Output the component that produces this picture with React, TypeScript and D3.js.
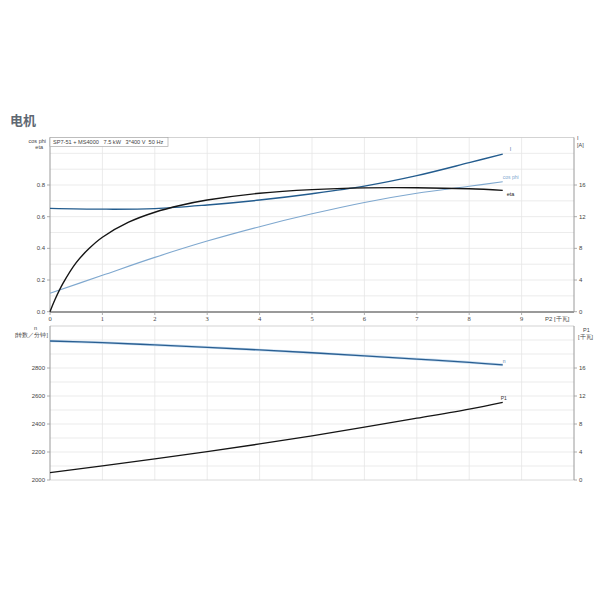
import React from "react";
import * as d3 from "d3";

const etaP2 = [0, 0.1, 0.25, 0.5, 0.75, 1, 1.5, 2, 2.5, 3, 4, 5, 6, 7, 8, 8.64];
const etaValues = [0, 0.08, 0.18, 0.31, 0.4, 0.47, 0.565, 0.628, 0.672, 0.705, 0.748, 0.771, 0.782, 0.783, 0.776, 0.766];

const p2 = [0, 1, 2, 3, 4, 5, 6, 7, 8, 8.64];
const cosPhiValues = [0.116, 0.23, 0.343, 0.446, 0.537, 0.618, 0.69, 0.748, 0.792, 0.821];
const currentValues = [13.05, 12.95, 13.02, 13.48, 14.1, 14.9, 15.86, 17.18, 18.82, 19.9];
const speedValues = [2993, 2981, 2965, 2948, 2929, 2909, 2887, 2864, 2840, 2822];
const p1Values = [1.05, 2.02, 3.02, 4.06, 5.15, 6.3, 7.54, 8.83, 10.14, 11.1];

const xTicks = [0, 1, 2, 3, 4, 5, 6, 7, 8, 9];
const effTicks = [0, 0.2, 0.4, 0.6, 0.8];
const currentTicks = [0, 4, 8, 12, 16];
const speedTicks = [2000, 2200, 2400, 2600, 2800];
const p1Ticks = [0, 4, 8, 12, 16];

const title = "电机";
const infoText = "SP7-51 + MS4000   7.5 kW   3*400 V  50 Hz";

const L = 50;
const R = 574;
const SANS = "'Liberation Sans', Arial, sans-serif";
const SERIF = "'Liberation Serif', 'Times New Roman', serif";
const GRID = "#e6e6e6";
const AXIS = "#9a9a9a";
const TXT = "#444";

export default function App() {
  const x = d3.scaleLinear().domain([0, 10]).range([L, R]);
  const yTop = d3.scaleLinear().domain([0, 1.1]).range([311.7, 137.5]);
  const yI = d3.scaleLinear().domain([0, 22]).range([311.7, 137.5]);
  const yN = d3.scaleLinear().domain([2000, 3100]).range([480, 326]);
  const yP = d3.scaleLinear().domain([0, 22]).range([480, 326]);

  const mk = (xs: number[], ys: number[], ysc: d3.ScaleLinear<number, number>) =>
    d3
      .line<number>()
      .x((_, i) => x(xs[i]))
      .y((d) => ysc(d))
      .curve(d3.curveCatmullRom.alpha(0.5))(ys) || "";

  const topGrid = d3.range(1, 11).map((i) => i / 10);
  const botGrid = d3.range(2100, 3001, 100);
  const vGrid = d3.range(1, 10);

  const lastI = p2.length - 1;

  return (
    <svg width={600} height={600} style={{ position: "absolute", left: 0, top: 0, background: "#fff" }}>
      <text x={10} y={125} fontFamily="'Noto Sans CJK SC', sans-serif" fontSize={13} fontWeight="bold" fill="#5f6873">
        {title}
      </text>

      {/* ---------- top chart ---------- */}
      {topGrid.map((v) => (
        <line key={"tg" + v} x1={L} x2={R} y1={yTop(v)} y2={yTop(v)} stroke={GRID} strokeWidth={0.8} />
      ))}
      {vGrid.map((v) => (
        <line key={"tv" + v} x1={x(v)} x2={x(v)} y1={137.5} y2={311.7} stroke={GRID} strokeWidth={0.8} />
      ))}
      <line x1={L} x2={R} y1={137.5} y2={137.5} stroke="#c8c8c8" strokeWidth={0.8} />
      <line x1={L} x2={L} y1={137.5} y2={312} stroke={AXIS} strokeWidth={1} />
      <line x1={R} x2={R} y1={137.5} y2={312} stroke={AXIS} strokeWidth={1} />
      <line x1={L} x2={R} y1={312} y2={312} stroke={AXIS} strokeWidth={2} />

      <rect x={L} y={137.5} width={118} height={9} fill="#fff" stroke="#aaa" strokeWidth={0.7} />
      <text x={L + 3} y={144.3} fontFamily={SANS} fontSize={5.6} fill={TXT} style={{ whiteSpace: "pre" }}>
        {infoText}
      </text>

      {effTicks.map((v) => (
        <g key={"et" + v}>
          <line x1={L - 3} x2={L} y1={yTop(v)} y2={yTop(v)} stroke={AXIS} strokeWidth={0.8} />
          <text x={L - 5} y={yTop(v) + 2} textAnchor="end" fontFamily={SANS} fontSize={6} fill={TXT}>
            {v.toFixed(1)}
          </text>
        </g>
      ))}
      <text x={46} y={143} textAnchor="end" fontFamily={SANS} fontSize={5.5} fill={TXT}>cos phi</text>
      <text x={43} y={149} textAnchor="end" fontFamily={SANS} fontSize={5.5} fill={TXT}>eta</text>

      {currentTicks.map((v) => (
        <g key={"it" + v}>
          <line x1={R} x2={R + 3} y1={yI(v)} y2={yI(v)} stroke={AXIS} strokeWidth={0.8} />
          <text x={R + 5} y={yI(v) + 2} fontFamily={SANS} fontSize={6} fill={TXT}>
            {v}
          </text>
        </g>
      ))}
      <text x={577} y={140} fontFamily={SANS} fontSize={5.5} fill={TXT}>I</text>
      <text x={577} y={147} fontFamily={SANS} fontSize={5.5} fill={TXT}>[A]</text>

      {xTicks.map((v) => (
        <g key={"xt" + v}>
          <line x1={x(v)} x2={x(v)} y1={312} y2={315} stroke={AXIS} strokeWidth={0.8} />
          <text x={x(v)} y={320.5} textAnchor="middle" fontFamily={SERIF} fontSize={6.5} fill={TXT}>
            {v}
          </text>
        </g>
      ))}
      <text x={545} y={320.5} fontFamily={SANS} fontSize={6} fill={TXT}>P2 [千瓦]</text>

      <path d={mk(p2, cosPhiValues, yTop)} fill="none" stroke="#7fa8cf" strokeWidth={1.1} />
      <path d={mk(p2, currentValues, yI)} fill="none" stroke="#235c8e" strokeWidth={1.4} />
      <path d={mk(etaP2, etaValues, yTop)} fill="none" stroke="#151515" strokeWidth={1.4} />

      <text x={x(p2[lastI]) + 7} y={yI(currentValues[lastI]) - 3} fontFamily={SANS} fontSize={5.5} fill="#5a86b0">I</text>
      <text x={x(p2[lastI])} y={yTop(cosPhiValues[lastI]) - 2.5} fontFamily={SANS} fontSize={5} fill="#7fa8cf">cos phi</text>
      <text x={x(etaP2[etaP2.length - 1]) + 4} y={yTop(etaValues[etaValues.length - 1]) + 6} fontFamily={SANS} fontSize={5.5} fill="#222">eta</text>

      {/* ---------- bottom chart ---------- */}
      {botGrid.map((v) => (
        <line key={"bg" + v} x1={L} x2={R} y1={yN(v)} y2={yN(v)} stroke={GRID} strokeWidth={0.8} />
      ))}
      {vGrid.map((v) => (
        <line key={"bv" + v} x1={x(v)} x2={x(v)} y1={326} y2={480} stroke={GRID} strokeWidth={0.8} />
      ))}
      <line x1={L} x2={R} y1={326} y2={326} stroke="#c8c8c8" strokeWidth={0.8} />
      <line x1={L} x2={R} y1={480} y2={480} stroke="#d0d0d0" strokeWidth={0.8} />
      <line x1={L} x2={L} y1={326} y2={480} stroke={AXIS} strokeWidth={1} />
      <line x1={R} x2={R} y1={326} y2={480} stroke={AXIS} strokeWidth={1} />

      {speedTicks.map((v) => (
        <g key={"st" + v}>
          <line x1={L - 3} x2={L} y1={yN(v)} y2={yN(v)} stroke={AXIS} strokeWidth={0.8} />
          <text x={L - 5} y={yN(v) + 2} textAnchor="end" fontFamily={SANS} fontSize={6} fill={TXT}>
            {v}
          </text>
        </g>
      ))}
      <text x={34} y={330} fontFamily={SANS} fontSize={5.5} fill={TXT}>n</text>
      <text x={48} y={337} textAnchor="end" fontFamily={SANS} fontSize={5.5} fill={TXT}>[转数／分钟]</text>

      {p1Ticks.map((v) => (
        <g key={"pt" + v}>
          <line x1={R} x2={R + 3} y1={yP(v)} y2={yP(v)} stroke={AXIS} strokeWidth={0.8} />
          <text x={R + 5} y={yP(v) + 2} fontFamily={SANS} fontSize={6} fill={TXT}>
            {v}
          </text>
        </g>
      ))}
      <text x={583} y={332} fontFamily={SANS} fontSize={5.5} fill={TXT}>P1</text>
      <text x={578} y={339} fontFamily={SANS} fontSize={5.5} fill={TXT}>[千瓦]</text>

      <path d={mk(p2, speedValues, yN)} fill="none" stroke="#c8ddf0" strokeWidth={2.6} />
      <path d={mk(p2, speedValues, yN)} fill="none" stroke="#2a5f92" strokeWidth={1.3} />
      <path d={mk(p2, p1Values, yP)} fill="none" stroke="#151515" strokeWidth={1.3} />

      <text x={x(p2[lastI])} y={yN(speedValues[lastI]) - 2} fontFamily={SANS} fontSize={5} fill="#5a86b0">n</text>
      <text x={x(p2[lastI]) - 2} y={yP(p1Values[lastI]) - 2.5} fontFamily={SANS} fontSize={5} fill="#333">P1</text>
    </svg>
  );
}
